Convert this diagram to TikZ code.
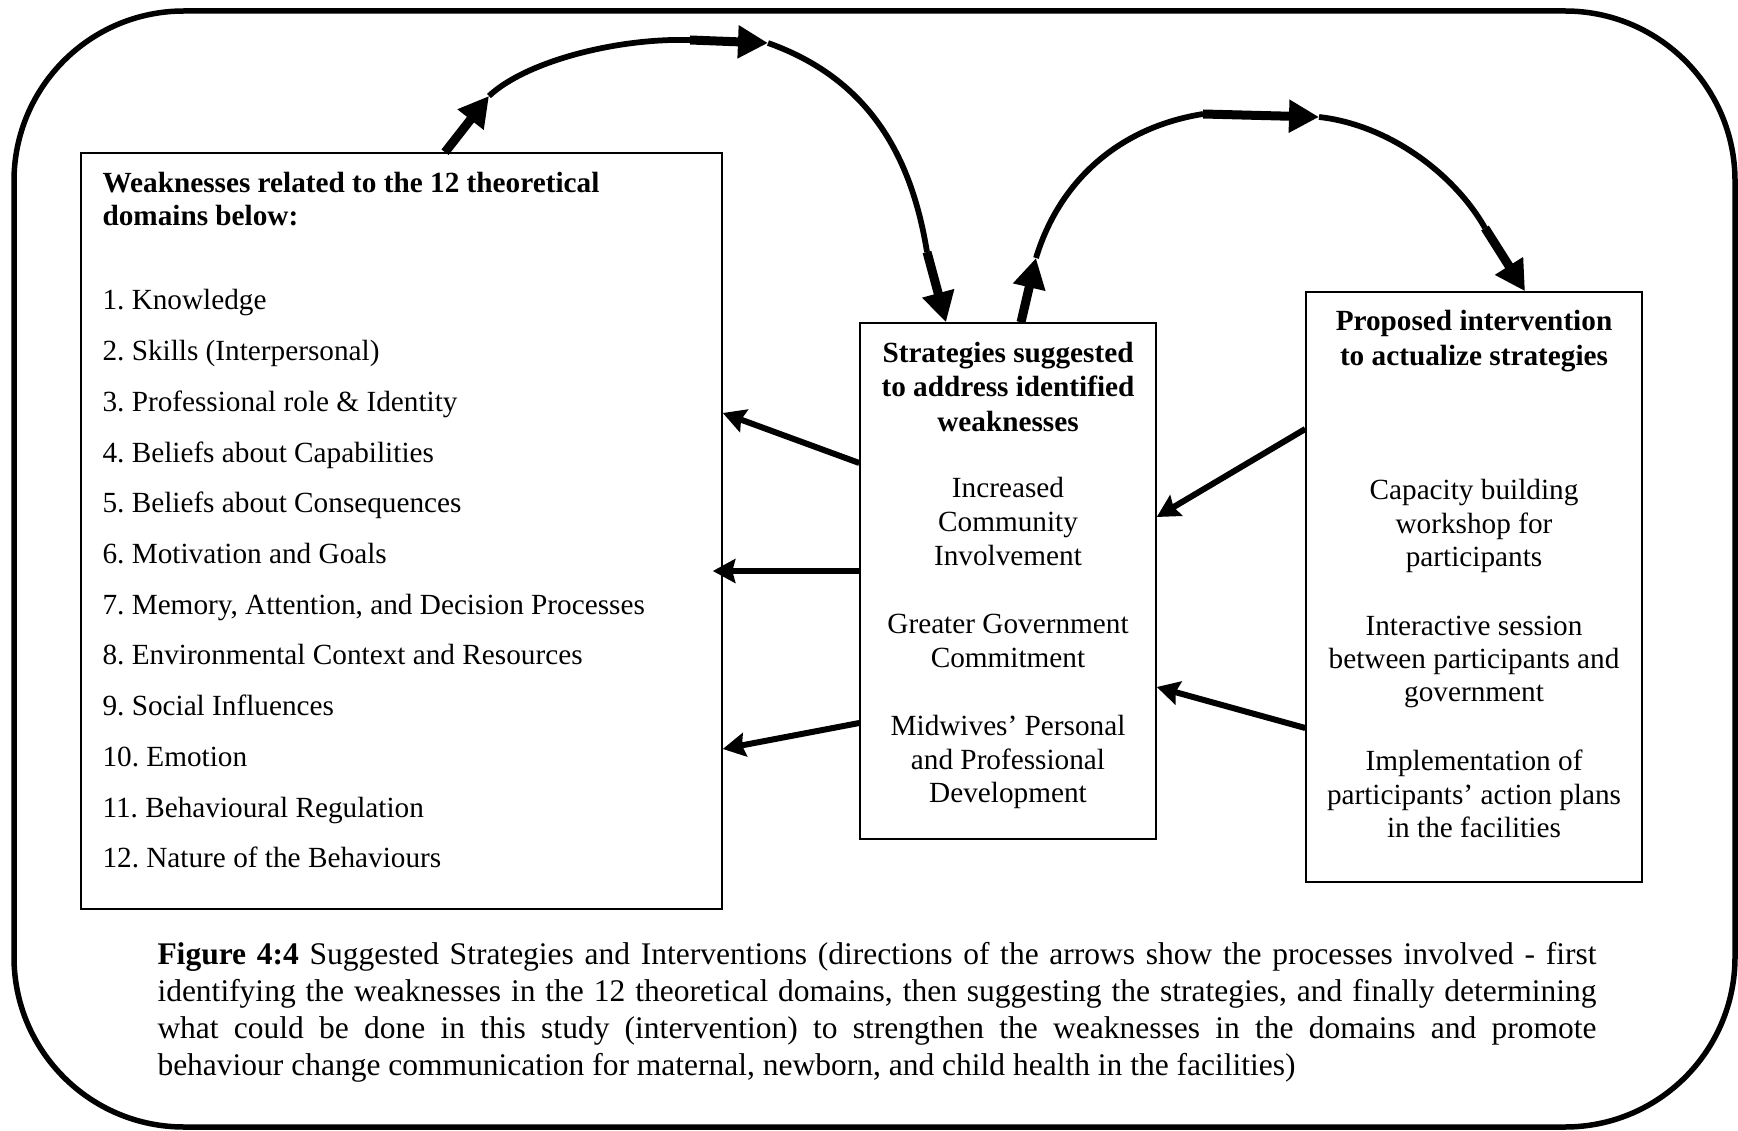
\documentclass[tikz,border=0pt]{standalone}
\usepackage{fontspec}
\setmainfont{Liberation Serif}
\usetikzlibrary{arrows.meta}
\frenchspacing
\begin{document}
\frenchspacing
\begin{tikzpicture}[x=0.4pt,y=-0.4pt,
  txt/.style={font=\fontsize{11.7pt}{14pt}\selectfont\frenchspacing, inner sep=0pt, anchor=base, yshift=-1.2pt},
  btxt/.style={font=\fontsize{11.7pt}{14pt}\selectfont\bfseries, inner sep=0pt, anchor=base, yshift=-1.2pt},
  ltxt/.style={txt, anchor=base west},
  lbtxt/.style={btxt, anchor=base west},
  captxt/.style={font=\fontsize{12.6pt}{15pt}\selectfont\frenchspacing, inner sep=0pt, anchor=base west, yshift=-1.2pt},
  boxframe/.style={draw, line width=0.6pt, inner sep=0pt},
  sarr/.style={line width=2.4pt, -{Stealth[length=9pt,width=9.5pt,inset=1.2pt]}},
  carc/.style={line width=2.3pt},
  cshaft/.style={line width=3.6pt, -{Triangle[length=12pt,width=12.5pt]}}
]
\useasboundingbox (0,0) rectangle (1738,1131);
\draw[line width=2.2pt, rounded corners=68pt] (14,11) rectangle (1735,1127);

% boxes
\node[boxframe, minimum width=256.4pt, minimum height=302.4pt] (weak) at (401.5,531) {};
\node[boxframe, minimum width=118.4pt, minimum height=206.4pt] (strat) at (1008,581) {};
\node[boxframe, minimum width=134.4pt, minimum height=236pt] (interv) at (1474,587) {};

% left box text
\node[lbtxt] (wt1) at (102,190) {Weaknesses related to the 12 theoretical};
\node[lbtxt] (wt2) at (102,223) {domains below:};
\foreach \t [count=\i] in {{1. Knowledge},{2. Skills (Interpersonal)},{3. Professional role \& Identity},{4. Beliefs about Capabilities},{5. Beliefs about Consequences},{6. Motivation and Goals},{7. Memory, Attention, and Decision Processes},{8. Environmental Context and Resources},{9. Social Influences},{10. Emotion},{11. Behavioural Regulation},{12. Nature of the Behaviours}}
  \node[ltxt] (w\i) at (102,{307+(\i-1)*50.7}) {\t};

% middle box text
\node[btxt] (st1) at (1008,360) {Strategies suggested};
\node[btxt] (st2) at (1008,394) {to address identified};
\node[btxt] (st3) at (1008,428) {weaknesses};
\node[txt] (s1) at (1008,495) {Increased};
\node[txt] (s2) at (1008,528) {Community};
\node[txt] (s3) at (1008,562) {Involvement};
\node[txt] (s4) at (1008,630) {Greater Government};
\node[txt] (s5) at (1008,664) {Commitment};
\node[txt] (s6) at (1008,732) {Midwives’ Personal};
\node[txt] (s7) at (1008,766) {and Professional};
\node[txt] (s8) at (1008,799) {Development};

% right box text
\node[btxt] (it1) at (1474,327.5) {Proposed intervention};
\node[btxt] (it2) at (1474,362.5) {to actualize strategies};
\node[txt] (i1) at (1474,496.5) {Capacity building};
\node[txt] (i2) at (1474,530.5) {workshop for};
\node[txt] (i3) at (1474,563.5) {participants};
\node[txt] (i4) at (1474,632.5) {Interactive session};
\node[txt] (i5) at (1474,665.5) {between participants and};
\node[txt] (i6) at (1474,698.5) {government};
\node[txt] (i7) at (1474,767.5) {Implementation of};
\node[txt] (i8) at (1474,801.5) {participants’ action plans};
\node[txt] (i9) at (1474,834.5) {in the facilities};

% caption
\node[captxt] (cap1) at (157,961) {\makebox[575.6pt][s]{\textbf{Figure 4:4} Suggested Strategies and Interventions (directions of the arrows show the processes involved - first}};
\node[captxt] (cap2) at (157,998) {\makebox[575.6pt][s]{identifying the weaknesses in the 12 theoretical domains, then suggesting the strategies, and finally determining}};
\node[captxt] (cap3) at (157,1035) {\makebox[575.6pt][s]{what could be done in this study (intervention) to strengthen the weaknesses in the domains and promote}};
\node[captxt] (cap4) at (157,1072) {behaviour change communication for maternal, newborn, and child health in the facilities)};

% straight arrows
\draw[sarr] (strat.west |- 0,463) -- (weak.east |- 0,413);
\draw[sarr] (strat.west |- 0,571) -- ([xshift=-4pt]weak.east |- 0,571);
\draw[sarr] (strat.west |- 0,723) -- (weak.east |- 0,749);
\draw[sarr] (interv.west |- 0,429) -- (strat.east |- 0,517);
\draw[sarr] (interv.west |- 0,728) -- (strat.east |- 0,687);

% curved connector A
\coordinate (a1) at (489,96);
\coordinate (a2) at (690,40);
\coordinate (a3) at (768,43);
\coordinate (a4) at (927,252);
\draw[cshaft] (weak.north -| 445,0) -- (a1);
\draw[carc] (a1) .. controls (525,62) and (615,38) .. (a2);
\draw[cshaft] (a2) -- (a3);
\draw[carc] (a3) .. controls (872,80) and (912,160) .. (a4);
\draw[cshaft] (a4) -- (strat.north -| 946,0);

% curved connector B
\coordinate (b1) at (1036,258);
\coordinate (b2) at (1203,114);
\coordinate (b3) at (1319,117);
\coordinate (b4) at (1485,228);
\draw[cshaft] (strat.north -| 1021,0) -- (b1);
\draw[carc] (b1) .. controls (1058,185) and (1115,128) .. (b2);
\draw[cshaft] (b2) -- (b3);
\draw[carc] (b3) .. controls (1390,125) and (1455,175) .. (b4);
\draw[cshaft] (b4) -- (interv.north -| 1525,0);
\end{tikzpicture}
\end{document}
